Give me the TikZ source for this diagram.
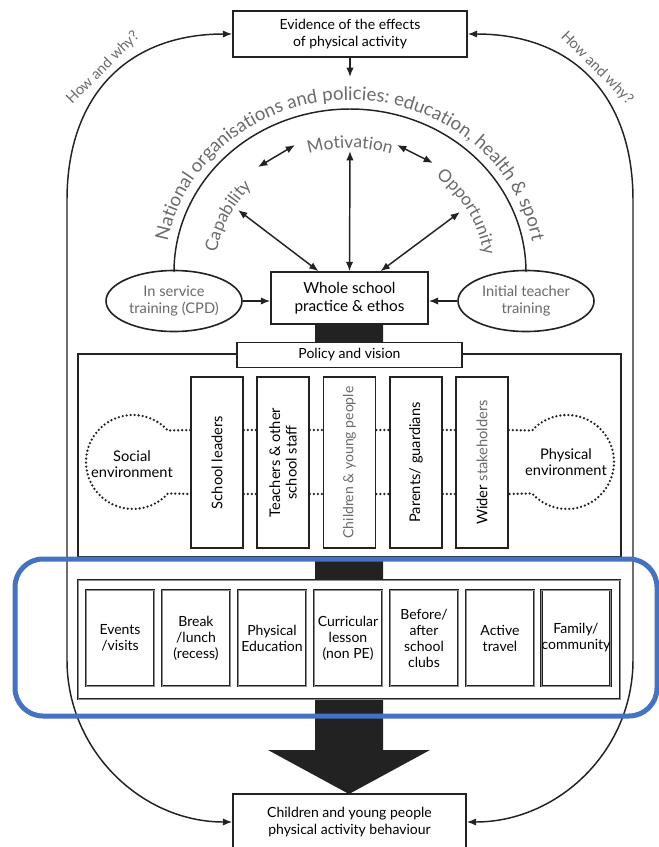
\documentclass[tikz,border=0pt]{standalone}
\usepackage{fontspec}
\setmainfont{Lato}
\usetikzlibrary{shapes.geometric,arrows.meta,decorations.text,calc}
\definecolor{hl}{HTML}{4472C4}
\definecolor{ln}{HTML}{222222}
\definecolor{gt}{HTML}{6A6A6A}
\newcommand{\pxd}[1]{#1*0.75pt}
\newcommand{\fs}[2]{\fontsize{#1}{#2}\selectfont}
\begin{document}
\begin{tikzpicture}[x=0.75pt,y=-0.75pt,
  >={Latex[length=7pt,width=5.5pt]},
  box/.style={draw=ln,line width=1.2pt,fill=white,inner sep=0pt,align=center},
  arr/.style={draw=ln,line width=1.1pt},
  dotl/.style={draw=ln,line width=1.9pt,dash pattern=on 0pt off 3pt,line cap=round},
  vbox/.style={box,minimum width=\pxd{52},minimum height=\pxd{171}},
  vtext/.style={rotate=90,align=center,font=\fs{11}{12.5}},
  abox/.style={draw=ln,line width=0.6pt,double=black!45,double distance=0.6pt,fill=white,
    minimum width=\pxd{68},minimum height=\pxd{96},inner sep=0pt,align=center,font=\fs{10.5}{12}},
  ell/.style={draw=ln,line width=1.2pt,ellipse,fill=white,inner sep=0pt,align=center,text=gt,
    font=\fs{11}{12.5},minimum width=\pxd{136},minimum height=\pxd{61}},
]
\useasboundingbox (0,0) rectangle (658,847);

% big black arrow behind everything
\fill[ln] (315,323) -- (383,323) -- (383,750) -- (430,750) -- (349,794) -- (268,750) -- (315,750) -- cycle;

% top and bottom boxes
\node[box,minimum width=\pxd{234},minimum height=\pxd{46},font=\fs{10.5}{13}] (ev) at (350,34) {Evidence of the effects\\of physical activity};
\node[box,minimum width=\pxd{233},minimum height=\pxd{56},font=\fs{10.5}{13}] (pab) at (349.5,822) {Children and young people\\physical activity behaviour};

% outer loops
\draw[arr,<->] (pab.west) .. controls (142,822) and (67,751) .. (67,660) -- (67,200) .. controls (67,95) and (128,34) .. (ev.west);
\draw[arr,<->] (pab.east) .. controls (558,822) and (633,751) .. (633,660) -- (633,200) .. controls (633,95) and (572,34) .. (ev.east);
\node[rotate=45,text=gt,font=\fs{11}{12}] (hw1) at (103,68) {How and why?};
\node[rotate=-45,text=gt,font=\fs{11}{12}] (hw2) at (597,68) {How and why?};

\coordinate (evd) at (350,77);
\draw[arr,->] (ev.south) -- (evd);

% ellipses and whole school box
\node[ell] (e1) at (174,301) {In service\\training (CPD)};
\node[ell] (e2) at (526,301) {Initial teacher\\training};
\node[box,minimum width=\pxd{157},minimum height=\pxd{52},font=\fs{11.5}{13.5}] (ws) at (349.5,298) {Whole school\\practice \& ethos};
\draw[arr,->] (e1.east) -- (e1.east -| ws.west);
\draw[arr,->] (e2.west) -- (e2.west -| ws.east);

% national arc
\draw[arr] (e1.north) -- plot[domain=180:0,samples=90,smooth] ({350+176*cos(\x)},{272-163*sin(\x)}) -- (e2.north);
\path[decorate,decoration={text along path,text align=center,
  text={|\fs{14}{16}\color{gt}|National organisations and policies: education, health {\&} sport}}]
  (165,272) arc[start angle=180,end angle=0,x radius=\pxd{185},y radius=\pxd{172}];

% inner words
\path[decorate,decoration={text along path,text align=center,text={|\fs{13}{15}\color{gt}|Capability}}]
  ({350+135*cos(182)},{272-124*sin(182)}) arc[start angle=182,end angle=126,x radius=\pxd{135},y radius=\pxd{124}];
\path[decorate,decoration={text along path,text align=center,text={|\fs{13}{15}\color{gt}|Motivation}}]
  ({350+135*cos(120)},{272-124*sin(120)}) arc[start angle=120,end angle=60,x radius=\pxd{135},y radius=\pxd{124}];
\path[decorate,decoration={text along path,text align=center,text={|\fs{13}{15}\color{gt}|Opportunity}}]
  ({350+135*cos(58)},{272-124*sin(58)}) arc[start angle=58,end angle=0,x radius=\pxd{135},y radius=\pxd{124}];

\coordinate (capR) at (258,167);
\coordinate (motL) at (295,145);
\coordinate (motR) at (397,145);
\coordinate (oppL) at (433,163);
\coordinate (capB) at (238,210);
\coordinate (motB) at (350,151);
\coordinate (oppB) at (460,212);
\draw[arr,<->] (capR) -- (motL);
\draw[arr,<->] (motR) -- (oppL);
\draw[arr,<->] (capB) -- ($(ws.north)+(-31,0)$);
\draw[arr,<->] (motB) -- (ws.north);
\draw[arr,<->] (oppB) -- ($(ws.north)+(31,0)$);

% middle block
\node[draw=ln,line width=1.1pt,fill=white,minimum width=\pxd{543},minimum height=\pxd{203},inner sep=0pt] (mid) at (349.5,455.5) {};
\node[box,minimum width=\pxd{225},minimum height=\pxd{25},font=\fs{10.5}{12}] (pv) at (349.5,355) {Policy and vision};

\node[vbox] (v1) at (217,462.5) {};
\node[vbox] (v2) at (283,462.5) {};
\node[vbox] (v3) at (349.5,462.5) {};
\node[vbox] (v4) at (416,462.5) {};
\node[vbox] (v5) at (482,462.5) {};
\node[vtext] (t1) at (v1) {School leaders};
\node[vtext] (t2) at (v2) {Teachers \& other\\school staff};
\node[vtext,text=gt,font=\fs{10.5}{12}] (t3) at (v3) {Children \& young people};
\node[vtext] (t4) at (v4) {Parents/ guardians};
\node[vtext] (t5) at (v5) {Wider {\color{gt}stakeholders}};

\coordinate (yA) at (0,430);
\coordinate (yB) at (0,494);
\foreach \a/\b in {v1/v2,v2/v3,v3/v4,v4/v5}{
  \draw[dotl] (\a.east |- yA) -- (\b.west |- yA);
  \draw[dotl] (\a.east |- yB) -- (\b.west |- yB);
}
\draw[dotl] (v1.west |- yA) -- plot[domain=42:318,samples=60] ({133+47*cos(\x)},{462-47*sin(\x)}) -- (v1.west |- yB);
\draw[dotl] (v5.east |- yA) -- plot[domain=138:-138,samples=60] ({567+47*cos(\x)},{462-47*sin(\x)}) -- (v5.east |- yB);
\node[align=center,font=\fs{11}{12.5}] (soc) at (132,464) {Social\\environment};
\node[align=center,font=\fs{11}{12.5}] (phy) at (566,462) {Physical\\environment};

% activities
\node[draw=ln,line width=0.6pt,double=black!45,double distance=0.5pt,fill=white,minimum width=\pxd{542},minimum height=\pxd{119},inner sep=0pt] (act) at (349,639.5) {};
\node[abox] (a1) at (120,638) {Events\\/visits};
\node[abox] (a2) at (196,638) {Break\\/lunch\\(recess)};
\node[abox] (a3) at (272,638) {Physical\\Education};
\node[abox] (a4) at (348,638) {Curricular\\lesson\\(non PE)};
\node[abox] (a5) at (424,638) {Before/\\after\\school\\clubs};
\node[abox] (a6) at (500,638) {Active\\travel};
\node[abox] (a7) at (576,638) {Family/\\community};

% highlight
\draw[hl,line width=\pxd{5},rounded corners=\pxd{28}] (15,559) rectangle (657,716);
\end{tikzpicture}
\end{document}
